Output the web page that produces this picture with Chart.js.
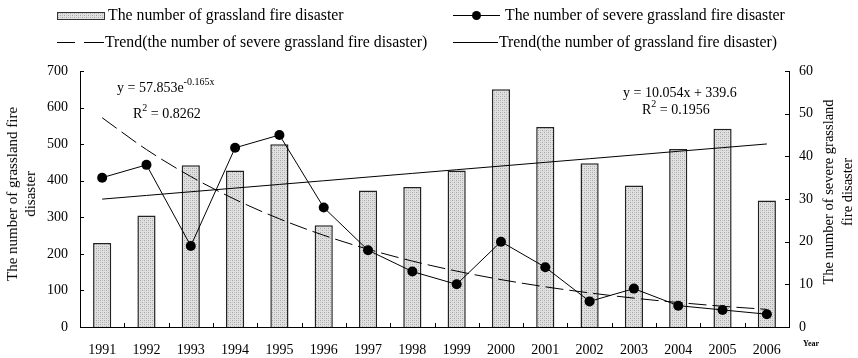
<!DOCTYPE html>
<html>
<head>
<meta charset="utf-8">
<script src="https://cdn.jsdelivr.net/npm/chart.js@4/dist/chart.umd.min.js"></script>
<style>
  html, body { margin: 0; padding: 0; background: #fff; }
  #wrap { position: relative; width: 858px; height: 358px; font-family: "Liberation Serif", "Times New Roman", serif; color: #000; }
  #wrap canvas { position: absolute; left: 0; top: 0; }
  .txt { position: absolute; white-space: nowrap; font-size: 14px; line-height: 16px; }
  .leg { font-size: 15.8px; line-height: 18px; }
  .txt sup { font-size: 10px; line-height: 0; position: relative; top: -1px; }
  .rot { position: absolute; white-space: nowrap; font-size: 15px; line-height: 18px; text-align: center;
         transform: translate(-50%, -50%) rotate(-90deg); }
  .sw { position: absolute; }
</style>
</head>
<body>
<div id="wrap">
  <canvas id="chart" width="858" height="358"></canvas>

  <!-- legend -->
  <div class="sw" id="barSwatch" style="left:57px; top:12px; width:46px; height:6px; border:1px solid #333;"></div>
  <div class="txt leg" style="left:108px; top:6px;">The number of grassland fire disaster</div>
  <div class="sw" style="left:453px; top:15px; width:47px; height:1px; background:#000;"></div>
  <div class="sw" style="left:472px; top:11px; width:9px; height:9px; border-radius:50%; background:#000;"></div>
  <div class="txt leg" style="left:505px; top:6px;">The number of severe grassland fire disaster</div>

  <div class="sw" style="left:57px; top:42px; width:18px; height:1px; background:#000;"></div>
  <div class="sw" style="left:84px; top:42px; width:20px; height:1px; background:#000;"></div>
  <div class="txt leg" style="left:105px; top:33px;">Trend(the number of severe grassland fire disaster)</div>
  <div class="sw" style="left:453px; top:42px; width:45px; height:1px; background:#000;"></div>
  <div class="txt leg" style="left:499px; top:33px;">Trend(the number of grassland fire disaster)</div>

  <!-- axis titles -->
  <div class="rot" style="left:21px; top:194px;">The number of grassland fire<br>disaster</div>
  <div class="rot" style="left:838px; top:192px; line-height:19px; font-size:14.5px;">The number of severe grassland<br>fire disaster</div>

  <!-- trend equations -->
  <div class="txt" style="left:117px; top:80px;">y = 57.853e<sup>-0.165x</sup></div>
  <div class="txt" style="left:133px; top:106px;">R<sup>2</sup> = 0.8262</div>
  <div class="txt" style="left:623px; top:85px;">y = 10.054x + 339.6</div>
  <div class="txt" style="left:642px; top:102px;">R<sup>2</sup> = 0.1956</div>

  <div class="txt" style="left:803px; top:339px; font-size:8px; font-weight:bold; line-height:10px;">Year</div>
</div>

<script>
// Years on the category axis
const years = ['1991', '1992', '1993', '1994', '1995', '1996', '1997', '1998',
               '1999', '2000', '2001', '2002', '2003', '2004', '2005', '2006'];

// Number of grassland fire disasters (left axis)
const fireCounts = [230, 305, 442, 428, 500, 278, 373, 383, 428, 650, 547, 448, 387, 487, 542, 346];

// Number of severe grassland fire disasters (right axis)
const severeCounts = [35, 38, 19, 42, 45, 28, 18, 13, 10, 20, 14, 6, 9, 5, 4, 3];

// Linear trend of fire disasters: y = 10.054x + 339.6
const fireTrend = [349.7, 359.7, 369.8, 379.8, 389.9, 399.9, 410.0, 420.0,
                   430.1, 440.1, 450.2, 460.2, 470.3, 480.4, 490.4, 500.5];

// Exponential trend of severe fire disasters: y = 57.853e^(-0.165x)
const severeTrend = [49.05, 41.59, 35.27, 29.90, 25.35, 21.50, 18.23, 15.45,
                     13.10, 11.11, 9.42, 7.99, 6.77, 5.74, 4.87, 4.13];

// Axis ranges
const leftTicks = [0, 100, 200, 300, 400, 500, 600, 700];
const rightTicks = [0, 10, 20, 30, 40, 50, 60];

// Dotted grey fill used by the bars
function makePattern() {
  const c = document.createElement('canvas');
  c.width = 4; c.height = 4;
  const g = c.getContext('2d');
  g.fillStyle = '#e0e0e0';
  g.fillRect(0, 0, 4, 4);
  g.fillStyle = '#a6a6a6';
  g.fillRect(0, 0, 1, 1);
  g.fillRect(2, 2, 1, 1);
  g.fillStyle = '#c4c4c4';
  g.fillRect(2, 0, 1, 1);
  g.fillRect(0, 2, 1, 1);
  return c;
}
const patCanvas = makePattern();
const ctx = document.getElementById('chart').getContext('2d');
const barFill = ctx.createPattern(patCanvas, 'repeat');
document.getElementById('barSwatch').style.background = 'url(' + patCanvas.toDataURL() + ')';

const serifFont = { family: '"Liberation Serif", "Times New Roman", serif', size: 14 };

// Short tick marks drawn inward from each axis line
const inwardTicks = {
  id: 'inwardTicks',
  afterDraw(chart) {
    const { ctx, chartArea: a, scales } = chart;
    ctx.save();
    ctx.strokeStyle = '#000';
    ctx.lineWidth = 1;
    ctx.beginPath();
    leftTicks.forEach(v => {
      const y = Math.round(scales.y.getPixelForValue(v)) + 0.5;
      ctx.moveTo(a.left, y); ctx.lineTo(a.left + 4, y);
    });
    rightTicks.forEach(v => {
      const y = Math.round(scales.y1.getPixelForValue(v)) + 0.5;
      ctx.moveTo(a.right - 4, y); ctx.lineTo(a.right, y);
    });
    for (let i = 0; i < years.length - 1; i++) {
      const x = Math.round((scales.x.getPixelForValue(i) + scales.x.getPixelForValue(i + 1)) / 2) + 0.5;
      ctx.moveTo(x, a.bottom); ctx.lineTo(x, a.bottom - 4);
    }
    ctx.stroke();
    ctx.restore();
  }
};

new Chart(ctx, {
  data: {
    labels: years,
    datasets: [
      {
        type: 'line',
        label: 'The number of severe grassland fire disaster',
        data: severeCounts,
        yAxisID: 'y1',
        borderColor: '#000',
        borderWidth: 1,
        backgroundColor: '#000',
        pointRadius: 5,
        pointBackgroundColor: '#000',
        pointBorderWidth: 0,
        tension: 0,
        order: 1
      },
      {
        type: 'line',
        label: 'Trend(the number of severe grassland fire disaster)',
        data: severeTrend,
        yAxisID: 'y1',
        borderColor: '#000',
        borderWidth: 1,
        borderDash: [18, 6],
        pointRadius: 0,
        cubicInterpolationMode: 'monotone',
        order: 2
      },
      {
        type: 'line',
        label: 'Trend(the number of grassland fire disaster)',
        data: fireTrend,
        yAxisID: 'y',
        borderColor: '#000',
        borderWidth: 1,
        pointRadius: 0,
        tension: 0,
        order: 3
      },
      {
        type: 'bar',
        label: 'The number of grassland fire disaster',
        data: fireCounts,
        yAxisID: 'y',
        backgroundColor: barFill,
        borderColor: '#222',
        borderWidth: 1.5,
        barPercentage: 0.41,
        categoryPercentage: 1,
        order: 4
      }
    ]
  },
  options: {
    responsive: false,
    animation: false,
    layout: { padding: { top: 71, left: 0, right: 0, bottom: 0 } },
    plugins: { legend: { display: false }, tooltip: { enabled: false } },
    scales: {
      x: {
        type: 'category',
        offset: true,
        grid: { display: false, drawTicks: false },
        border: { display: true, color: '#000', width: 1 },
        ticks: { color: '#000', font: serifFont, padding: 15, maxRotation: 0, autoSkip: false },
        afterFit(s) { s.height = 31; }
      },
      y: {
        position: 'left',
        min: 0, max: 700,
        grid: { display: false, drawTicks: false },
        border: { display: true, color: '#000', width: 1 },
        ticks: { color: '#000', font: serifFont, stepSize: 100, padding: 12 },
        afterFit(s) { s.width = 80; }
      },
      y1: {
        position: 'right',
        min: 0, max: 60,
        grid: { display: false, drawTicks: false },
        border: { display: true, color: '#000', width: 1 },
        ticks: { color: '#000', font: serifFont, stepSize: 10, padding: 10 },
        afterFit(s) { s.width = 69; }
      }
    }
  },
  plugins: [inwardTicks]
});
</script>
</body>
</html>
